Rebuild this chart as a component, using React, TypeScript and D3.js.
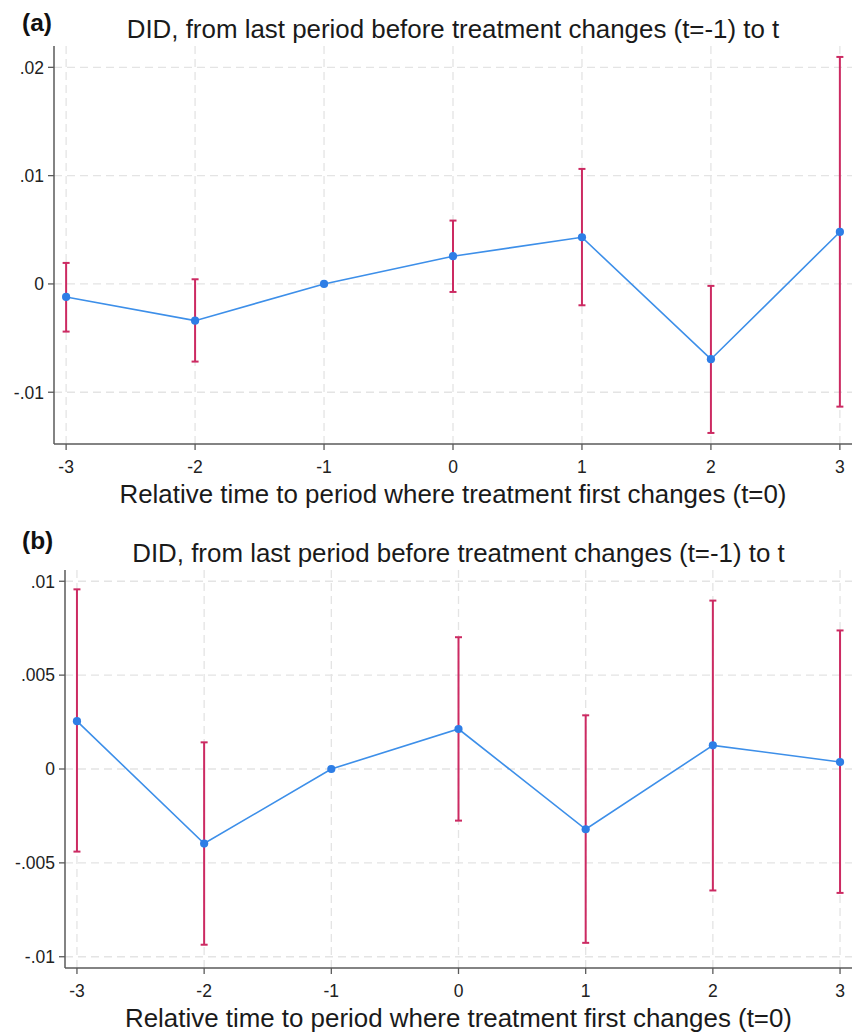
import React from "react";
import * as d3 from "d3";

const periods = [-3, -2, -1, 0, 1, 2, 3];
const xTickLabels = ["-3", "-2", "-1", "0", "1", "2", "3"];

const estA = [-0.0012, -0.00339, 0, 0.00256, 0.00431, -0.00695, 0.0048];
const lowA = [-0.0044, -0.00717, 0, -0.00074, -0.00197, -0.01376, -0.01133];
const highA = [0.00194, 0.00043, 0, 0.00585, 0.01062, -0.00018, 0.02096];
const yTicksA = [-0.01, 0, 0.01, 0.02];
const yTickLabelsA = ["-.01", "0", ".01", ".02"];

const estB = [0.00255, -0.00397, 0, 0.00213, -0.00321, 0.00126, 0.00037];
const lowB = [-0.0044, -0.00936, 0, -0.00275, -0.00926, -0.00647, -0.0066];
const highB = [0.00957, 0.00142, 0, 0.00702, 0.00286, 0.00897, 0.00738];
const yTicksB = [-0.01, -0.005, 0, 0.005, 0.01];
const yTickLabelsB = ["-.01", "-.005", "0", ".005", ".01"];

const titleText = "DID, from last period before treatment changes (t=-1) to t";
const xAxisTitle = "Relative time to period where treatment first changes (t=0)";

const FONT = "'Liberation Sans', Arial, Helvetica, sans-serif";
const LINE = "#3d8fe9";
const DOT = "#2e7ee6";
const BAR = "#cc2a62";
const AXIS = "#5a5a5a";
const GRID = "#e4e4e4";

type PanelProps = {
  label: string;
  est: number[];
  low: number[];
  high: number[];
  yTicks: number[];
  yTickLabels: string[];
  yDomain: [number, number];
  box: { left: number; right: number; top: number; bottom: number };
  titleY: number;
  labelY: number;
};

function Panel(p: PanelProps) {
  const { box } = p;
  const x = d3.scaleLinear().domain([-3.094, 3.094]).range([box.left, box.right]);
  const y = d3.scaleLinear().domain(p.yDomain).range([box.bottom, box.top]);
  const line = d3
    .line<number>()
    .x((_, i) => x(periods[i]))
    .y((d) => y(d));
  const cx = (box.left + box.right) / 2;
  return (
    <g>
      <text x={22} y={p.labelY} fontFamily={FONT} fontWeight="bold" fontSize={24.5} fill="#111">
        {p.label}
      </text>
      <text x={cx} y={p.titleY} textAnchor="middle" fontFamily={FONT} fontSize={25.9} fill="#1a1a1a">
        {titleText}
      </text>
      {/* gridlines */}
      {p.yTicks.map((t, i) => (
        <line
          key={"gy" + i}
          x1={box.left}
          x2={box.right}
          y1={y(t)}
          y2={y(t)}
          stroke={GRID}
          strokeWidth={1.3}
          strokeDasharray="8,5"
        />
      ))}
      {periods.map((t, i) => (
        <line
          key={"gx" + i}
          x1={x(t)}
          x2={x(t)}
          y1={box.top}
          y2={box.bottom}
          stroke={GRID}
          strokeWidth={1.3}
          strokeDasharray="8,5"
        />
      ))}
      {/* axes */}
      <line x1={box.left} x2={box.left} y1={box.top} y2={box.bottom} stroke={AXIS} strokeWidth={1.5} />
      <line x1={box.left} x2={box.right} y1={box.bottom} y2={box.bottom} stroke={AXIS} strokeWidth={1.5} />
      {p.yTicks.map((t, i) => (
        <g key={"ty" + i}>
          <line x1={box.left - 6} x2={box.left} y1={y(t)} y2={y(t)} stroke={AXIS} strokeWidth={1.3} />
          <text
            x={box.left - 10}
            y={y(t)}
            dy="0.36em"
            textAnchor="end"
            fontFamily={FONT}
            fontSize={17.5}
            fill="#222"
          >
            {p.yTickLabels[i]}
          </text>
        </g>
      ))}
      {periods.map((t, i) => (
        <g key={"tx" + i}>
          <line x1={x(t)} x2={x(t)} y1={box.bottom} y2={box.bottom + 6} stroke={AXIS} strokeWidth={1.3} />
          <text x={x(t)} y={box.bottom + 29} textAnchor="middle" fontFamily={FONT} fontSize={17.5} fill="#222">
            {xTickLabels[i]}
          </text>
        </g>
      ))}
      <text
        x={cx}
        y={box.bottom + 59}
        textAnchor="middle"
        fontFamily={FONT}
        fontSize={25.9}
        fill="#1a1a1a"
      >
        {xAxisTitle}
      </text>
      {/* error bars */}
      {periods.map((t, i) =>
        p.low[i] === p.high[i] ? null : (
          <g key={"eb" + i} stroke={BAR} strokeWidth={2}>
            <line x1={x(t)} x2={x(t)} y1={y(p.low[i])} y2={y(p.high[i])} />
            <line x1={x(t) - 3.5} x2={x(t) + 3.5} y1={y(p.low[i])} y2={y(p.low[i])} />
            <line x1={x(t) - 3.5} x2={x(t) + 3.5} y1={y(p.high[i])} y2={y(p.high[i])} />
          </g>
        )
      )}
      <path d={line(p.est) || ""} fill="none" stroke={LINE} strokeWidth={1.6} />
      {p.est.map((v, i) => (
        <circle key={"pt" + i} cx={x(periods[i])} cy={y(v)} r={4.1} fill={DOT} />
      ))}
    </g>
  );
}

export default function App() {
  return (
    <svg
      width={860}
      height={1034}
      style={{ position: "absolute", left: 0, top: 0, background: "#fff" }}
    >
      <rect width={860} height={1034} fill="#fff" />
      <Panel
        label="(a)"
        est={estA}
        low={lowA}
        high={highA}
        yTicks={yTicksA}
        yTickLabels={yTickLabelsA}
        yDomain={[-0.01478, 0.02197]}
        box={{ left: 54, right: 852, top: 46, bottom: 444 }}
        titleY={38}
        labelY={31}
      />
      <Panel
        label="(b)"
        est={estB}
        low={lowB}
        high={highB}
        yTicks={yTicksB}
        yTickLabels={yTickLabelsB}
        yDomain={[-0.0106, 0.0106]}
        box={{ left: 65, right: 852, top: 570, bottom: 968 }}
        titleY={562}
        labelY={549}
      />
    </svg>
  );
}
